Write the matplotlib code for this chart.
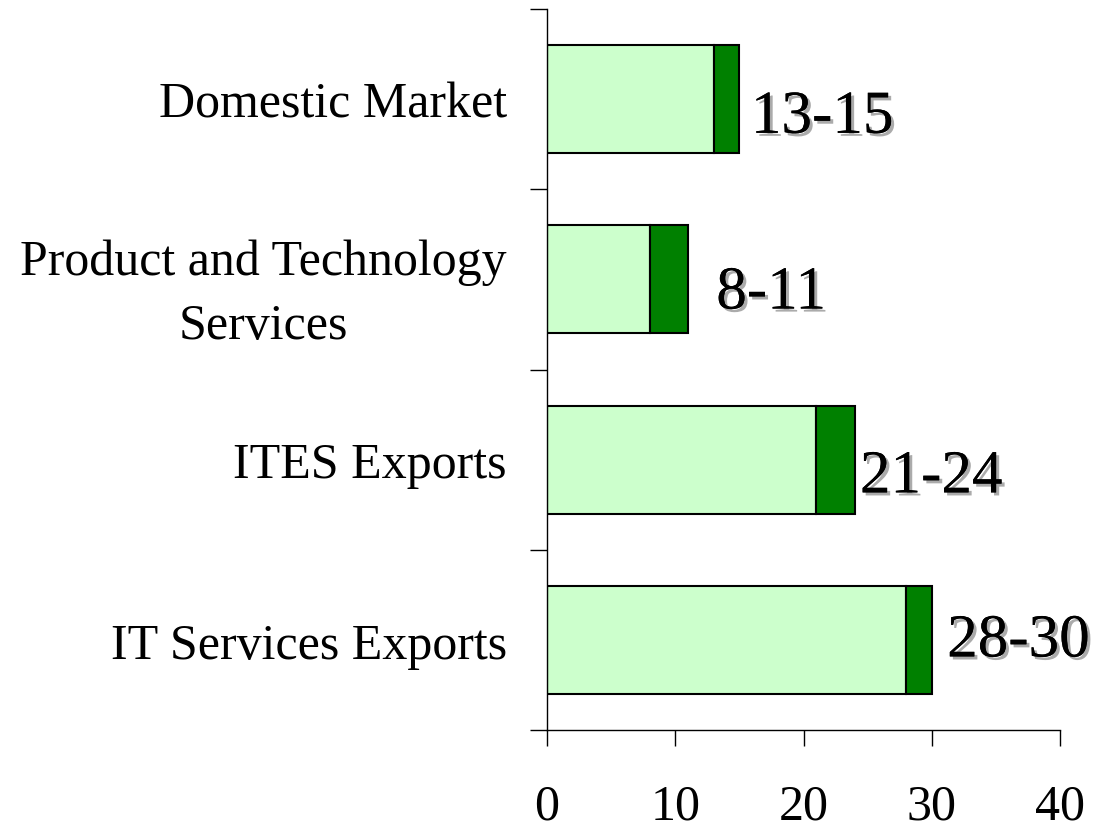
import matplotlib
matplotlib.use("Agg")
import matplotlib.pyplot as plt
import matplotlib.patheffects as pe
import numpy as np

categories = ["IT Services Exports", "ITES Exports",
              "Product and Technology\nServices", "Domestic Market"]
low_values = [28, 21, 8, 13]
high_values = [30, 24, 11, 15]
range_labels = ["28-30", "21-24", "8-11", "13-15"]
x_ticks = [0, 10, 20, 30, 40]

# label placement offsets (data units beyond bar end, vertical offset)
label_dx = [1.2, 0.4, 2.2, 0.9]
label_dy = [-0.01, -0.10, -0.08, -0.105]

plt.rcParams['font.family'] = ['Liberation Serif', 'DejaVu Serif']

fig = plt.figure(figsize=(11.01, 8.29), dpi=100)
ax = fig.add_axes([547/1101, 1 - 731/829, (1060-547)/1101, (731-10)/829])

y = np.arange(len(categories))
ext = [h - l for h, l in zip(high_values, low_values)]
ax.barh(y, low_values, height=0.6, color='#CCFFCC', edgecolor='black', linewidth=1.5, zorder=2)
ax.barh(y, ext, left=low_values, height=0.6, color='#008000', edgecolor='black', linewidth=1.5, zorder=2)

for i, (h, lab) in enumerate(zip(high_values, range_labels)):
    ax.text(h + label_dx[i], i + label_dy[i], lab, fontsize=44, ha='left', va='center',
            path_effects=[pe.withSimplePatchShadow(offset=(2.2, -2.2), shadow_rgbFace='#888888', alpha=0.7),
                          pe.Normal()])

ax.set_xlim(0, 40)
ax.set_ylim(-0.5, 3.5)
ax.set_xticks(x_ticks)
ax.set_xticklabels([str(t) for t in x_ticks], fontsize=36)
ax.set_yticks(y)
ax.set_yticklabels(categories, fontsize=36, multialignment='center', linespacing=1.5)
ax.set_yticks(np.arange(-0.5, 4, 1), minor=True)
ax.tick_params(axis='y', which='major', length=0, pad=29)
ax.tick_params(axis='y', which='minor', length=12, width=1, direction='out')
ax.tick_params(axis='x', which='major', length=11.5, width=1, direction='out', pad=27)
for s in ['top', 'right']:
    ax.spines[s].set_visible(False)
for s in ['left', 'bottom']:
    ax.spines[s].set_linewidth(1)

fig.savefig("out.png", dpi=100)
